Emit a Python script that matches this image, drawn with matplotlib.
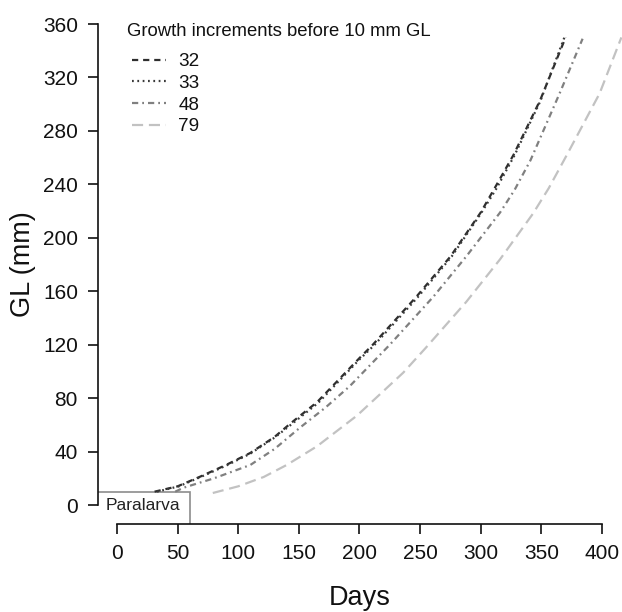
import matplotlib
matplotlib.use("Agg")
import matplotlib.pyplot as plt
from matplotlib.patches import Rectangle

plt.rcParams['font.family'] = ['Liberation Sans', 'DejaVu Sans']

# ---- data ----
days_32 = [31, 50, 68, 90, 110, 130, 143, 165, 200, 211, 247, 275, 300, 312, 327, 349, 370]
gl_32   = [10, 14, 21, 30, 39, 51, 61, 77, 110, 120, 156, 186, 219, 238, 262, 303, 350]

days_33 = [33, 51, 69, 90, 110, 130, 144, 166, 200, 212, 248, 276, 300, 313, 328, 349, 369]
gl_33   = [10, 14, 21, 29.5, 38.5, 50.5, 60.5, 76.5, 109, 119.5, 155.5, 186, 218, 237, 262, 302, 350]

days_48 = [48, 55, 80, 110, 130, 151, 172, 192, 225, 261, 288, 316, 328, 341, 365, 384]
gl_48   = [10, 13, 20, 30, 42, 58, 73, 89, 120, 156, 186, 219, 236, 258, 308, 349]

days_79 = [79, 100, 121, 140, 165, 198, 236, 255, 288, 316, 343, 356, 371, 398, 416]
gl_79   = [9, 14, 21, 30, 44, 67, 99, 118, 152, 184, 218, 237, 262, 308, 350]

series_labels = ["32", "33", "48", "79"]
legend_title = "Growth increments before 10 mm GL"
x_ticks = [0, 50, 100, 150, 200, 250, 300, 350, 400]
y_ticks = [0, 40, 80, 120, 160, 200, 240, 280, 320, 360]
paralarva_days = 60
paralarva_gl = 10

W, H = 622, 612
fig = plt.figure(figsize=(W / 100, H / 100), dpi=100)

ax_l, ax_r = 97.6, 622.0
ax_t, ax_b = 18.7, 524.0
ax = fig.add_axes([ax_l / W, 1 - ax_b / H, (ax_r - ax_l) / W, (ax_b - ax_t) / H])
ax.set_xlim(-16, 416.5)
ax.set_ylim(-14.2, 364)

lw = 1.6
ax.plot(days_32, gl_32, color="#2e2e2e", lw=lw, ls=(0, (2.8, 2.2)), label=series_labels[0])
ax.plot(days_33, gl_33, color="#3a3a3a", lw=lw, ls=(0, (0.8, 1.6)), label=series_labels[1])
ax.plot(days_48, gl_48, color="#808080", lw=lw, ls=(0, (2.8, 1.8, 0.8, 1.8)), label=series_labels[2])
ax.plot(days_79, gl_79, color="#c2c2c2", lw=lw, ls=(0, (5.0, 2.6)), label=series_labels[3])

# Paralarva box (clipped by the plot region: only top and right edges show)
rect = Rectangle((-200, -200), paralarva_days + 200, paralarva_gl + 200,
                 fill=False, edgecolor="#8c8c8c", lw=1.2, clip_on=True)
ax.add_patch(rect)
ax.text(-9, 0, "Paralarva", fontsize=12.5, va="center", ha="left", color="#222222")

# R-style axes
for s in ["top", "right"]:
    ax.spines[s].set_visible(False)
ax.spines["left"].set_bounds(0, 360)
ax.spines["bottom"].set_bounds(0, 400)
for s in ["left", "bottom"]:
    ax.spines[s].set_linewidth(1.2)
    ax.spines[s].set_color("#111111")
ax.set_xticks(x_ticks)
ax.set_yticks(y_ticks)
ax.tick_params(axis="both", direction="out", length=7.2, width=1.2, labelsize=15,
               colors="#111111")
ax.tick_params(axis="y", pad=7)
ax.tick_params(axis="x", pad=7)

fig.text(360 / W, 1 - 598 / H, "Days", fontsize=19.5, ha="center", va="center", color="#111111")
fig.text(23 / W, 1 - 264.5 / H, "GL (mm)", fontsize=19.5, ha="center", va="center",
         rotation=90, color="#111111")

# legend
fig.text(127 / W, 1 - 31 / H, legend_title, fontsize=13.3, ha="left", va="center", color="#111111")
leg = ax.legend(loc="upper left", bbox_to_anchor=(132 / W, 1 - 53 / H),
                bbox_transform=fig.transFigure, frameon=False, fontsize=13.6,
                handlelength=1.8, handletextpad=0.65, labelspacing=0.24,
                borderpad=0, borderaxespad=0)
for t in leg.get_texts():
    t.set_color("#111111")

fig.savefig("out.png", dpi=100)
